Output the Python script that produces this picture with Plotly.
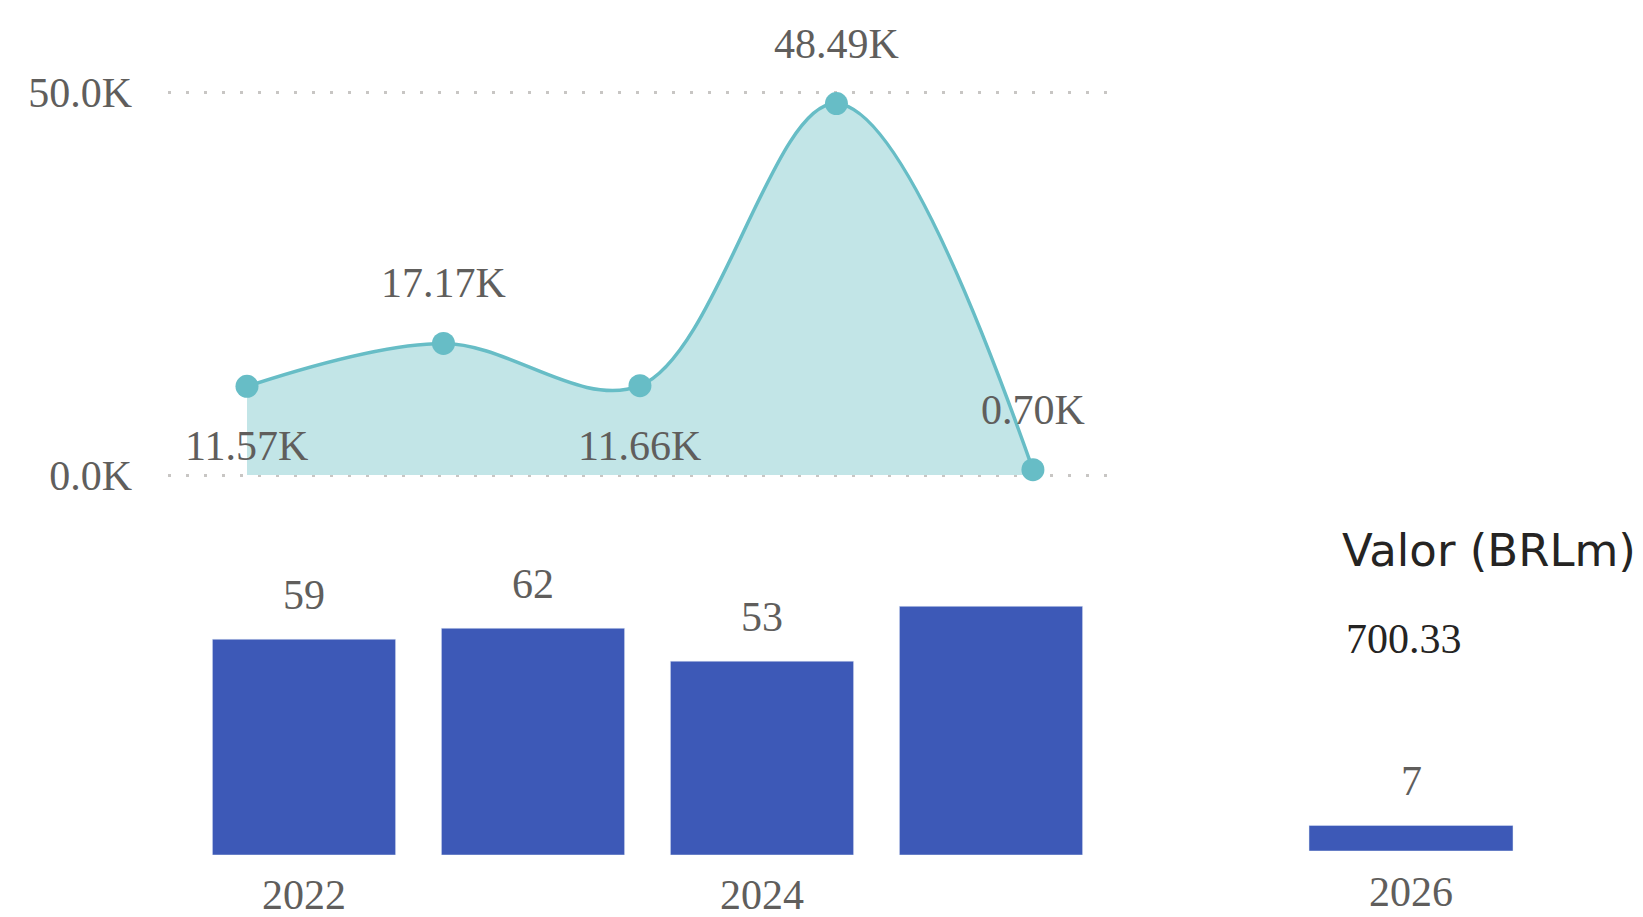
import plotly.graph_objects as go

W, H = 1643, 917


def px(x):
    return x / W


def py(y):
    return 1 - y / H


# ---- data ----
area_years = [2022, 2023, 2024, 2025, 2026]
area_values = [11570, 17170, 11660, 48490, 700]
area_labels = ["11.57K", "17.17K", "11.66K", "48.49K", "0.70K"]
area_label_side = ["below", "above", "below", "above", "above"]

bar_years = [2022, 2023, 2024, 2025]
bar_values = [59, 62, 53, 68]
bar_labels = ["59", "62", "53", ""]
bar_tick_years = [2022, 2024]

side_years = [2026]
side_values = [7]
side_labels = ["7"]

y_tick_vals = [0, 50000]
y_tick_text = ["0.0K", "50.0K"]

card_title = "Valor (BRLm)"
card_value = "700.33"

# ---- style ----
LINE = "#67BDC6"
FILL = "#C2E5E7"
BAR = "#3D59B7"
GRAY = "#605E5C"
SERIF = "Liberation Serif"
FS = 42

# top chart: 0 at y=475px, 50K at y=92px
PXK = 383 / 50000
YPAD = 1000
top_y0 = 475 + YPAD * PXK
top_y1 = 92 - YPAD * PXK

fig = go.Figure()
fig.add_trace(go.Scatter(
    x=area_years, y=area_values, mode="lines+markers",
    line=dict(shape="spline", smoothing=1, color=LINE, width=3.5),
    marker=dict(size=23, color=LINE),
    fill="tozeroy", fillcolor=FILL, xaxis="x", yaxis="y",
    cliponaxis=False, hoverinfo="skip", showlegend=False))
fig.add_trace(go.Bar(x=bar_years, y=bar_values, width=0.8, marker_color=BAR,
                     xaxis="x2", yaxis="y2", showlegend=False, hoverinfo="skip"))
fig.add_trace(go.Bar(x=side_years, y=side_values, width=0.8, marker_color=BAR,
                     xaxis="x3", yaxis="y3", showlegend=False, hoverinfo="skip"))

for x, v, t, side in zip(area_years, area_values, area_labels, area_label_side):
    fig.add_annotation(x=x, y=v, xref="x", yref="y", text=t, showarrow=False,
                       yanchor="middle", yshift=60 if side == "above" else -60,
                       font=dict(family=SERIF, size=FS, color=GRAY))
for x, v, t in zip(bar_years, bar_values, bar_labels):
    if t:
        fig.add_annotation(x=x, y=v, xref="x2", yref="y2", text=t, showarrow=False,
                           yanchor="middle", yshift=44,
                           font=dict(family=SERIF, size=FS, color=GRAY))
for x, v, t in zip(side_years, side_values, side_labels):
    fig.add_annotation(x=x, y=v, xref="x3", yref="y3", text=t, showarrow=False,
                       yanchor="middle", yshift=44,
                       font=dict(family=SERIF, size=FS, color=GRAY))

fig.add_annotation(x=px(1340), y=py(550), xref="paper", yref="paper", text=card_title,
                   showarrow=False, xanchor="left", yanchor="middle",
                   font=dict(family="DejaVu Sans", size=45, color="#252423"))
fig.add_annotation(x=px(1344), y=py(639), xref="paper", yref="paper", text=card_value,
                   showarrow=False, xanchor="left", yanchor="middle",
                   font=dict(family=SERIF, size=FS, color="#252423"))

fig.update_layout(
    width=W, height=H, margin=dict(l=0, r=0, t=0, b=0, autoexpand=False),
    paper_bgcolor="white", plot_bgcolor="white",
    xaxis=dict(domain=[px(168), px(1107)], range=[2021.598, 2026.377], automargin=False,
               showticklabels=False, showgrid=False, zeroline=False, anchor="y"),
    yaxis=dict(domain=[py(top_y0), py(top_y1)], range=[-YPAD, 50000 + YPAD], anchor="x",
               automargin=False,
               tickvals=y_tick_vals, ticktext=y_tick_text,
               showgrid=True, gridcolor="#C8C6C4", gridwidth=3, griddash="3px,15px",
               zeroline=False, ticks="", ticklabelstandoff=35,
               tickfont=dict(family=SERIF, size=FS, color=GRAY)),
    xaxis2=dict(domain=[px(189.5), px(1105.5)], range=[2021.5, 2025.5], anchor="y2",
                automargin=False,
                tickvals=bar_tick_years, ticktext=[str(v) for v in bar_tick_years],
                showgrid=False, zeroline=False, ticks="", ticklabelstandoff=11,
                tickfont=dict(family=SERIF, size=FS, color=GRAY)),
    yaxis2=dict(domain=[py(855), py(599)], range=[0, 70], visible=False, automargin=False),
    xaxis3=dict(domain=[px(1283.5), px(1538.5)], range=[2025.5, 2026.5], anchor="y3",
                automargin=False,
                tickvals=side_years, ticktext=[str(v) for v in side_years],
                showgrid=False, zeroline=False, ticks="", ticklabelstandoff=12,
                tickfont=dict(family=SERIF, size=FS, color=GRAY)),
    yaxis3=dict(domain=[py(851), py(595)], range=[0, 70], visible=False, automargin=False),
)

fig.write_html("out.html", config={"displayModeBar": False},
               post_script="document.body.style.margin='0';document.body.style.overflow='hidden';")
